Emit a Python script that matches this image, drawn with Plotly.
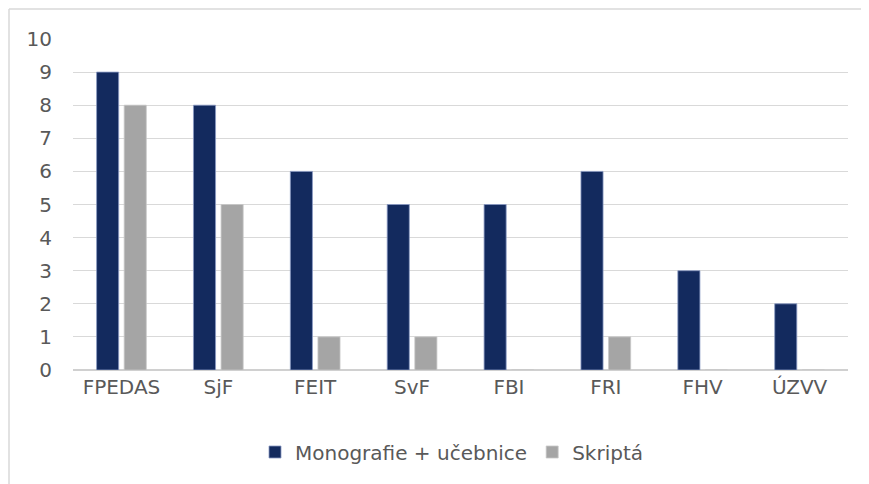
import plotly.graph_objects as go

categories = ["FPEDAS", "SjF", "FEIT", "SvF", "FBI", "FRI", "FHV", "ÚZVV"]
monografie = [9, 8, 6, 5, 5, 6, 3, 2]
skripta = [8, 5, 1, 1, 0, 1, 0, 0]
y_ticks = list(range(0, 11))

# page has an 8px body margin, so the figure is sized to fit the window
W, H = 861, 476
ml, mr, mt, mb = 65, 21, 31, 114
pw, ph = W - ml - mr, H - mt - mb

def px(xf):
    return (xf - ml) / pw

def py(yf):
    return (H - mb - yf) / ph

fig = go.Figure()
fig.add_trace(go.Bar(x=categories, y=monografie, name="Monografie + učebnice",
                     marker=dict(color="#132a5e", line=dict(color="#8a9bc4", width=0.8))))
fig.add_trace(go.Bar(x=categories, y=skripta, name="Skriptá",
                     marker=dict(color="#a5a5a5", line=dict(color="#c8c8c8", width=0.8))))

fig.update_layout(
    width=W, height=H,
    margin=dict(l=ml, r=mr, t=mt, b=mb),
    paper_bgcolor="white", plot_bgcolor="white",
    barmode="group", bargap=0.43, bargroupgap=0.2,
    font=dict(family="DejaVu Sans", size=20, color="#595959"),
    showlegend=True,
    legend=dict(orientation="h", x=px(444), xanchor="center", y=py(444), yanchor="middle",
                font=dict(size=20, color="#595959"), itemwidth=30,
                traceorder="normal"),
    xaxis=dict(showgrid=False, showline=False, ticks="", tickfont=dict(size=20),
               ticklabelstandoff=3),
    yaxis=dict(range=[0, 10], tickvals=y_ticks, showgrid=True, gridcolor="#d9d9d9",
               gridwidth=1, zeroline=True, zerolinecolor="#d0d0d0", zerolinewidth=1.5,
               ticks="", tickfont=dict(size=20), ticklabelstandoff=20),
    shapes=[
        dict(type="line", xref="paper", yref="paper", x0=px(1), x1=px(W), y0=py(1), y1=py(1),
             line=dict(color="#d9d9d9", width=1.5)),
        dict(type="line", xref="paper", yref="paper", x0=px(1), x1=px(1), y0=py(H), y1=py(1),
             line=dict(color="#d9d9d9", width=1.5)),
    ],
)

fig.write_html("out.html")
